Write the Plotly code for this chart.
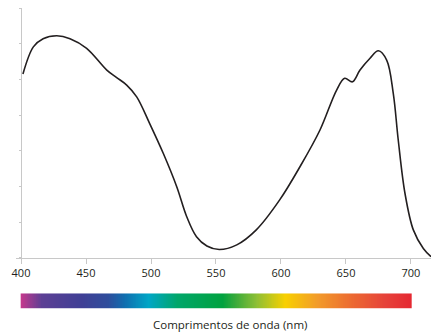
import numpy as np
import plotly.graph_objects as go

# Absorption-like spectrum
wavelength_nm = [401.5, 409.5, 417, 427.5, 437.7, 450.5, 466, 473.6, 481.3, 489, 499,
                 509.5, 519.8, 527.5, 535, 543, 552.5, 566, 581, 599, 614.6, 630,
                 642.8, 649, 655, 660.8, 668.5, 674.9, 681.3, 686.4, 690.2, 695.4,
                 701.8, 709.5, 715.4]
intensity = [51.5, 59.1, 61.4, 62.2, 61.4, 58.7, 52.6, 50.5, 48.4, 45.1, 37.6,
             29.2, 19.9, 11.5, 5.9, 3.3, 2.3, 3.6, 7.8, 16.2, 25.5, 35.8,
             47.0, 50.3, 49.3, 52.6, 55.9, 58.0, 55.4, 46.0, 33.0, 18.0,
             7.8, 2.6, 0.3]

tick_values = [400, 450, 500, 550, 600, 650, 700]
tick_labels = ["400", "450", "500", "550", "600", "650", "700"]

spectrum_nm = [400, 416, 447, 467, 480, 498, 520, 555, 565, 581, 603, 628, 654, 680, 700]
spectrum_colors = ["#c4388c", "#5c3f94", "#3f3f95", "#2e4d9c", "#0f6fb0", "#00a6c6",
                   "#00a66a", "#00a23f", "#3aaa3a", "#8dbf35", "#f8d000", "#f29b2a",
                   "#ec6a31", "#e6423a", "#e52832"]

x_title = "Comprimentos de onda (nm)"

W, H = 431, 334
ml, mt = 16, 8
x_lo, x_hi = 396.15, 715.4
plot_h = H - mt
main_bottom = (H - 257.7) / plot_h
bar_bottom = (H - 308.7) / plot_h
bar_top = (H - 293.3) / plot_h

fig = go.Figure()

fig.add_trace(go.Scatter(
    x=wavelength_nm, y=intensity, mode="lines",
    line=dict(color="#231f20", width=1.6, shape="spline", smoothing=1.0),
    xaxis="x", yaxis="y", hoverinfo="skip", showlegend=False,
))

bar_x = np.arange(spectrum_nm[0], spectrum_nm[-1] + 0.5, 0.5)
scale = [[(nm - spectrum_nm[0]) / (spectrum_nm[-1] - spectrum_nm[0]), c]
         for nm, c in zip(spectrum_nm, spectrum_colors)]
fig.add_trace(go.Heatmap(
    x=bar_x, y=[0], z=[bar_x], colorscale=scale, showscale=False,
    zmin=spectrum_nm[0], zmax=spectrum_nm[-1],
    xaxis="x2", yaxis="y2", hoverinfo="skip",
))

fig.update_layout(
    width=W, height=H,
    margin=dict(l=ml, r=0, t=mt, b=0, pad=0),
    paper_bgcolor="white", plot_bgcolor="white",
    font=dict(family="Open Sans", color="#231f20", size=11),
    xaxis=dict(domain=[0, 1], range=[x_lo, x_hi], anchor="y",
               showline=True, linecolor="#c8c8c8", linewidth=1,
               ticks="outside", ticklen=5, tickcolor="#c8c8c8", tickwidth=1,
               tickvals=tick_values, ticktext=tick_labels,
               tickfont=dict(size=11, color="#231f20"),
               showgrid=False, zeroline=False, fixedrange=True),
    yaxis=dict(domain=[main_bottom, 1], range=[0, 70], anchor="free",
               position=(400 - x_lo) / (x_hi - x_lo),
               showline=True, linecolor="#c8c8c8", linewidth=1,
               ticks="outside", ticklen=2, tickcolor="#c8c8c8",
               tickvals=[0, 10, 20, 30, 40, 50, 60, 70],
               showticklabels=False, showgrid=False, zeroline=False),
    xaxis2=dict(domain=[0, 1], range=[x_lo, x_hi], anchor="y2", visible=False),
    yaxis2=dict(domain=[bar_bottom, bar_top], range=[-0.5, 0.5], anchor="x2",
                visible=False),
    annotations=[dict(text=x_title, xref="paper", yref="paper",
                      x=(230 - ml) / (W - ml), xanchor="center",
                      y=(H - 324) / plot_h, yanchor="middle",
                      showarrow=False, font=dict(size=11.5, color="#231f20"))],
)

fig.write_html("out.html", config={"displayModeBar": False},
               post_script="document.body.style.margin='0';"
                           "document.body.style.overflow='hidden';")
